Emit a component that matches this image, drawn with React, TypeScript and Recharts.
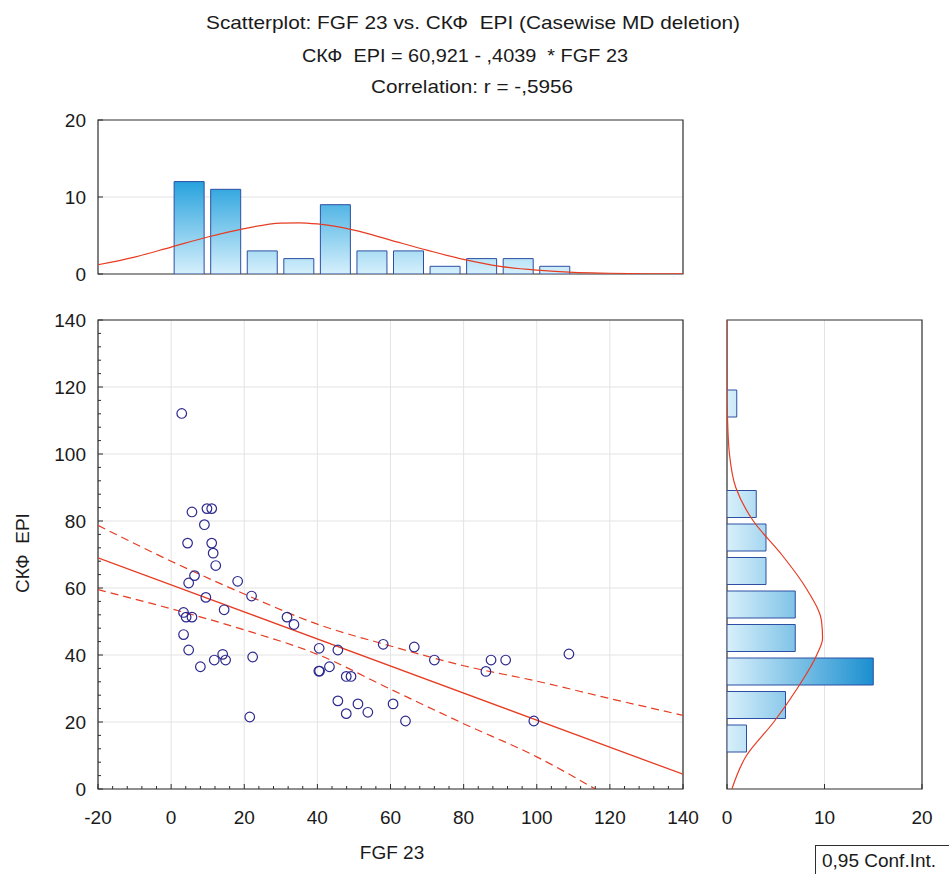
import {
  ComposedChart,
  Bar,
  Line,
  Scatter,
  XAxis,
  YAxis,
  CartesianGrid,
  ReferenceArea,
} from 'recharts'

// FGF 23 (x) vs СКФ EPI (y), one entry per case
const fgf23 = [
  2.9, 5.7, 9.8, 11.1, 9.1, 4.5, 11.1, 11.5, 12.2, 6.4, 4.8, 18.2, 22.0, 9.5, 14.5, 3.4, 4.1,
  5.7, 3.4, 4.8, 14.1, 11.8, 14.9, 8.0, 22.3, 21.5, 31.7, 33.6, 40.5, 45.6, 40.4, 40.6, 43.3,
  47.9, 49.2, 58.0, 45.6, 51.1, 60.7, 47.9, 53.8, 64.1, 66.5, 72.0, 87.5, 91.5, 86.1, 108.8,
  99.2,
]
const skfEpi = [
  112.1, 82.7, 83.7, 83.7, 78.9, 73.4, 73.4, 70.4, 66.7, 63.7, 61.5, 62.0, 57.6, 57.2, 53.5,
  52.7, 51.3, 51.3, 46.1, 41.5, 40.2, 38.5, 38.5, 36.5, 39.4, 21.5, 51.3, 49.1, 42.0, 41.5,
  35.2, 35.2, 36.5, 33.6, 33.6, 43.2, 26.3, 25.4, 25.4, 22.5, 22.9, 20.3, 42.4, 38.5, 38.5,
  38.5, 35.1, 40.3, 20.3,
]

// top histogram: FGF 23 bins (centres) and counts, plus the normal fit
const fgfBins = [-5, 5, 15, 25, 35, 45, 55, 65, 75, 85, 95, 105]
const fgfCounts = [0, 12, 11, 3, 2, 9, 3, 3, 1, 2, 2, 1]
const fgfFitX = [-20, -10, 0, 10, 20, 30, 35, 40, 50, 60, 70, 80, 90, 100, 110, 120, 130, 140]
const fgfFit = [1.2, 2.2, 3.5, 4.8, 5.9, 6.6, 6.65, 6.5, 5.7, 4.4, 3.1, 1.9, 1.0, 0.5, 0.2, 0.1, 0.03, 0.01]

// right histogram: СКФ EPI bins (centres) and counts, plus the normal fit
const epiBins = [15, 25, 35, 45, 55, 65, 75, 85, 95, 105, 115]
const epiCounts = [2, 6, 15, 7, 7, 4, 4, 3, 0, 0, 1]
const epiFitY = [0, 10, 20, 30, 40, 45, 50, 60, 70, 80, 90, 100, 110, 120, 130, 140]
const epiFit = [0.5, 2.0, 4.8, 7.2, 9.2, 9.8, 9.7, 8.1, 5.6, 2.7, 0.9, 0.25, 0.06, 0.01, 0, 0]

// regression line and 0,95 confidence band
const regX = [-20, 140]
const regY = [69.0, 4.4]
const ciUpperX = [-20, 0, 20, 40, 60, 80, 100, 120, 140]
const ciUpper = [78.7, 68.0, 58.2, 49.2, 42.7, 36.8, 32.2, 27.0, 22.0]
const ciLowerX = [-20, 0, 20, 40, 60, 80, 100, 116]
const ciLower = [59.5, 53.8, 47.5, 40.2, 29.8, 19.5, 9.6, 0]

const xTicks = [-20, 0, 20, 40, 60, 80, 100, 120, 140]
const yTicks = [0, 20, 40, 60, 80, 100, 120, 140]
const histTicks = [0, 10, 20]

const FONT = '"Liberation Sans", Arial, Helvetica, sans-serif'
const INK = '#1a1a1a'
const AXIS = '#2e2e2e'
const GRID = '#e3e3e3'
const RED = '#e63c22'
const NAVY = '#2d2a8e'
const BAR_EDGE = '#2c4fa3'

// split every major interval in five for the small inner ticks
const withMinor = (majors: number[]) =>
  majors.flatMap((v, i) =>
    i === 0 ? [v] : [1, 2, 3, 4, 5].map((k) => majors[i - 1] + ((v - majors[i - 1]) * k) / 5)
  )

const points = fgf23.map((x, i) => ({ x, y: skfEpi[i] }))
const fgfHist = fgfBins.map((x, i) => ({ x, count: fgfCounts[i] }))
const fgfCurve = fgfFitX.map((x, i) => ({ x, fit: fgfFit[i] }))
const epiHist = epiBins.map((y, i) => ({ y, count: epiCounts[i] }))
const epiCurve = epiFitY.map((y, i) => ({ y, fit: epiFit[i] }))
const regLine = regX.map((x, i) => ({ x, fit: regY[i] }))
const upperLine = ciUpperX.map((x, i) => ({ x, upper: ciUpper[i] }))
const lowerLine = ciLowerX.map((x, i) => ({ x, lower: ciLower[i] }))

type Side = 'bottom' | 'top' | 'left' | 'right'

// inward tick marks, labels only on majors
function tickMark(side: Side, majors: number[], labels: boolean) {
  return (props: any) => {
    const { x, y, payload } = props
    const v = payload.value
    const major = majors.includes(v)
    const len = major ? 5 : 3
    const dx = side === 'left' ? len : side === 'right' ? -len : 0
    const dy = side === 'bottom' ? -len : side === 'top' ? len : 0
    const textProps = { fontSize: 19, fontFamily: FONT, fill: INK, dominantBaseline: 'central' as const }
    return (
      <g>
        <line x1={x} y1={y} x2={x + dx} y2={y + dy} stroke={AXIS} strokeWidth={1} />
        {labels && major && side === 'bottom' && (
          <text x={x} y={y + 28} textAnchor="middle" {...textProps}>
            {v}
          </text>
        )}
        {labels && major && side === 'left' && (
          <text x={x - 12} y={y} textAnchor="end" {...textProps}>
            {v}
          </text>
        )}
      </g>
    )
  }
}

const ring = (props: any) => (
  <circle cx={props.cx} cy={props.cy} r={4.8} fill="none" stroke={NAVY} strokeWidth={1.2} />
)

const axisBase = {
  tickSize: 0,
  tickMargin: 0,
  axisLine: false,
  tickLine: false,
  interval: 0 as const,
  allowDataOverflow: true,
}

function TopHistogram() {
  // plot spans y 20..174 inside this svg, count 12 sits at 81.6
  return (
    <ComposedChart
      width={700}
      height={190}
      data={fgfHist}
      margin={{ top: 20, right: 17, bottom: 16, left: 48 }}
    >
      <defs>
        <linearGradient id="gFgf" gradientUnits="userSpaceOnUse" x1={0} y1={174} x2={0} y2={81.6}>
          <stop offset="0%" stopColor="#d6f0fc" />
          <stop offset="100%" stopColor="#27a2dd" />
        </linearGradient>
      </defs>
      <CartesianGrid stroke={GRID} vertical={false} horizontalValues={[10]} />
      <XAxis
        {...axisBase}
        type="number"
        dataKey="x"
        orientation="top"
        height={0}
        domain={[-20, 140]}
        ticks={xTicks}
        tick={tickMark('top', xTicks, false)}
      />
      {/* separate scale for the fitted curve so its points don't narrow the bars */}
      <XAxis xAxisId="fit" type="number" dataKey="x" domain={[-20, 140]} hide />
      <YAxis
        {...axisBase}
        type="number"
        width={50}
        domain={[0, 20]}
        ticks={histTicks}
        tick={tickMark('left', histTicks, true)}
      />
      <YAxis
        {...axisBase}
        yAxisId="r"
        orientation="right"
        type="number"
        width={0}
        domain={[0, 20]}
        ticks={histTicks}
        tick={tickMark('right', histTicks, false)}
      />
      <Bar
        dataKey="count"
        barSize={30}
        fill="url(#gFgf)"
        stroke={BAR_EDGE}
        strokeWidth={1}
        isAnimationActive={false}
      />
      <Line
        xAxisId="fit"
        data={fgfCurve}
        dataKey="fit"
        type="monotone"
        stroke={RED}
        strokeWidth={1.2}
        dot={false}
        activeDot={false}
        isAnimationActive={false}
      />
      <ReferenceArea x1={-20} x2={140} y1={0} y2={20} fill="none" stroke={AXIS} strokeWidth={1.2} />
    </ComposedChart>
  )
}

function MainScatter() {
  const minorX = withMinor(xTicks)
  const minorY = withMinor(yTicks)
  return (
    <ComposedChart width={700} height={540} margin={{ top: 20, right: 17, bottom: 11, left: 48 }}>
      <CartesianGrid stroke={GRID} horizontalValues={yTicks} verticalValues={xTicks} />
      <XAxis
        {...axisBase}
        type="number"
        dataKey="x"
        height={40}
        domain={[-20, 140]}
        ticks={minorX}
        tick={tickMark('bottom', xTicks, true)}
      />
      <XAxis
        {...axisBase}
        xAxisId="t"
        orientation="top"
        type="number"
        height={0}
        domain={[-20, 140]}
        ticks={minorX}
        tick={tickMark('top', xTicks, false)}
      />
      <YAxis
        {...axisBase}
        type="number"
        dataKey="y"
        width={50}
        domain={[0, 140]}
        ticks={minorY}
        tick={tickMark('left', yTicks, true)}
      />
      <YAxis
        {...axisBase}
        yAxisId="r"
        orientation="right"
        type="number"
        width={0}
        domain={[0, 140]}
        ticks={minorY}
        tick={tickMark('right', yTicks, false)}
      />
      <Line
        data={upperLine}
        dataKey="upper"
        type="monotone"
        stroke={RED}
        strokeWidth={1.2}
        strokeDasharray="8 5"
        dot={false}
        activeDot={false}
        isAnimationActive={false}
      />
      <Line
        data={lowerLine}
        dataKey="lower"
        type="monotone"
        stroke={RED}
        strokeWidth={1.2}
        strokeDasharray="8 5"
        dot={false}
        activeDot={false}
        isAnimationActive={false}
      />
      <Line
        data={regLine}
        dataKey="fit"
        type="linear"
        stroke={RED}
        strokeWidth={1.3}
        dot={false}
        activeDot={false}
        isAnimationActive={false}
      />
      <Scatter data={points} shape={ring} isAnimationActive={false} />
      <ReferenceArea x1={-20} x2={140} y1={0} y2={140} fill="none" stroke={AXIS} strokeWidth={1.2} />
    </ComposedChart>
  )
}

function RightHistogram() {
  // plot spans x 27..222 inside this svg, count 15 sits at 173.25
  return (
    <ComposedChart
      layout="vertical"
      width={249}
      height={540}
      data={epiHist}
      margin={{ top: 20, right: 27, bottom: 11, left: 27 }}
    >
      <defs>
        <linearGradient id="gEpi" gradientUnits="userSpaceOnUse" x1={27} y1={0} x2={173.25} y2={0}>
          <stop offset="0%" stopColor="#d8f0fb" />
          <stop offset="100%" stopColor="#1b8fd0" />
        </linearGradient>
      </defs>
      <CartesianGrid stroke={GRID} horizontal={false} verticalValues={[10]} />
      <XAxis
        {...axisBase}
        type="number"
        height={40}
        domain={[0, 20]}
        ticks={histTicks}
        tick={tickMark('bottom', histTicks, true)}
      />
      <XAxis
        {...axisBase}
        xAxisId="t"
        orientation="top"
        type="number"
        height={0}
        domain={[0, 20]}
        ticks={histTicks}
        tick={tickMark('top', histTicks, false)}
      />
      <YAxis
        {...axisBase}
        type="number"
        dataKey="y"
        reversed
        width={0}
        domain={[0, 140]}
        ticks={yTicks}
        tick={tickMark('left', yTicks, false)}
      />
      <YAxis
        {...axisBase}
        yAxisId="r"
        orientation="right"
        type="number"
        reversed
        width={0}
        domain={[0, 140]}
        ticks={yTicks}
        tick={tickMark('right', yTicks, false)}
      />
      {/* separate scale for the fitted curve so its points don't narrow the bars */}
      <YAxis yAxisId="fit" type="number" dataKey="y" reversed domain={[0, 140]} hide />
      <Bar
        dataKey="count"
        barSize={27}
        fill="url(#gEpi)"
        stroke={BAR_EDGE}
        strokeWidth={1}
        isAnimationActive={false}
      />
      <Line
        yAxisId="fit"
        data={epiCurve}
        dataKey="fit"
        type="monotone"
        stroke={RED}
        strokeWidth={1.2}
        dot={false}
        activeDot={false}
        isAnimationActive={false}
      />
      <ReferenceArea x1={0} x2={20} y1={0} y2={140} fill="none" stroke={AXIS} strokeWidth={1.2} />
    </ComposedChart>
  )
}

export default function App() {
  const txt = { fontFamily: FONT, fontSize: 19, fill: INK, style: { whiteSpace: 'pre' as const } }
  return (
    <div style={{ position: 'absolute', left: 0, top: 0, width: 949, height: 874, background: '#fff', overflow: 'hidden' }}>
      <div style={{ position: 'absolute', left: 0, top: 100 }}>
        <TopHistogram />
      </div>
      <div style={{ position: 'absolute', left: 0, top: 300 }}>
        <MainScatter />
      </div>
      <div style={{ position: 'absolute', left: 700, top: 300 }}>
        <RightHistogram />
      </div>
      <svg
        width={949}
        height={874}
        style={{ position: 'absolute', left: 0, top: 0, pointerEvents: 'none' }}
      >
        <text x={473} y={29} textAnchor="middle" textLength={534} lengthAdjust="spacingAndGlyphs" {...txt}>
          Scatterplot: FGF 23 vs. СКФ  EPI (Casewise MD deletion)
        </text>
        <text x={465} y={62} textAnchor="middle" textLength={326} lengthAdjust="spacingAndGlyphs" {...txt}>
          СКФ  EPI = 60,921 - ,4039  * FGF 23
        </text>
        <text x={472} y={93} textAnchor="middle" textLength={202} lengthAdjust="spacingAndGlyphs" {...txt}>
          Correlation: r = -,5956
        </text>
        <text x={22} y={553} textAnchor="middle" dominantBaseline="central" transform="rotate(-90 22 553)" {...txt}>
          СКФ  EPI
        </text>
        <text x={392} y={859} textAnchor="middle" {...txt}>
          FGF 23
        </text>
        <rect x={815.5} y={845.5} width={140} height={40} fill="#fff" stroke={AXIS} strokeWidth={1} />
        <text x={822} y={867} {...txt}>
          0,95 Conf.Int.
        </text>
      </svg>
    </div>
  )
}
